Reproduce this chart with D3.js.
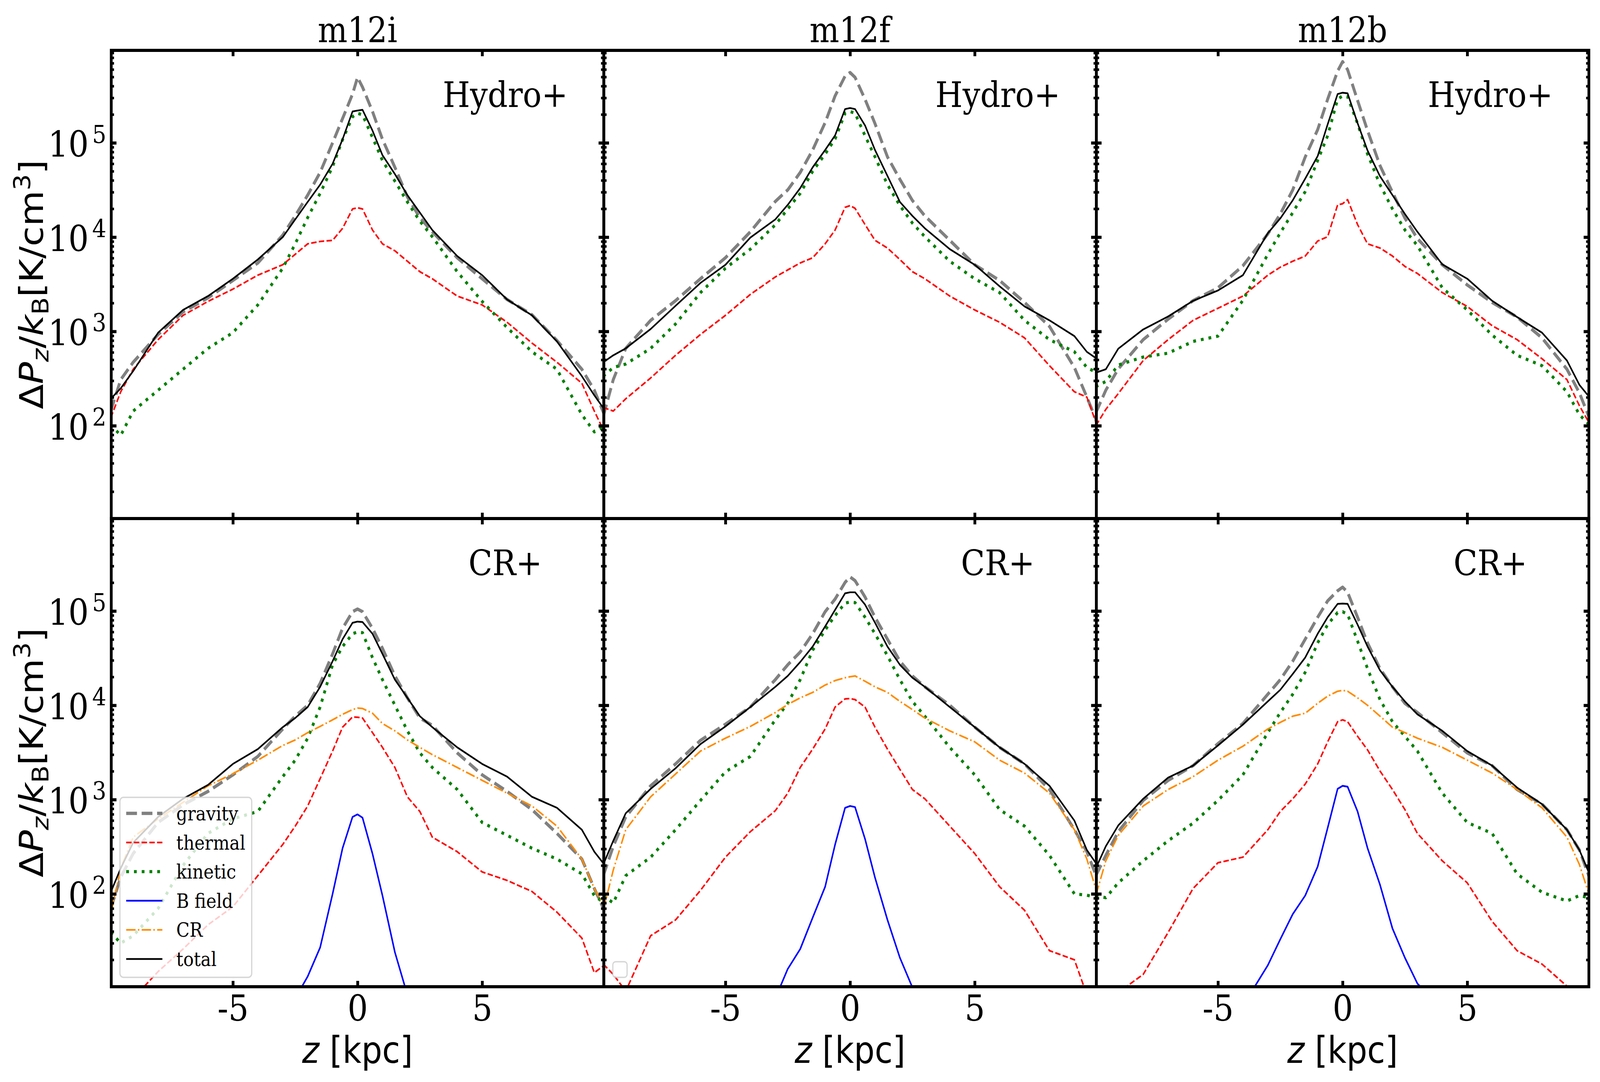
<!DOCTYPE html>
<html>
<head>
<meta charset="utf-8">
<script src="https://cdn.jsdelivr.net/npm/d3@7/dist/d3.min.js"></script>
<style>
html, body { margin: 0; padding: 0; background: #fff; overflow: hidden; }
#chartDiv { width: 100vw; height: 100vh; }
</style>
</head>
<body>
<div id="chartDiv"></div>
<script>
var zGrid = [-9.9, -9.5, -9, -8, -7, -6, -5, -4, -3, -2.5, -2, -1.5, -1, -0.6, -0.2, 0,
	0.2, 0.6, 1, 1.5, 2, 2.5, 3, 4, 5, 6, 7, 8, 9, 9.5, 9.9];

var galaxies = ["m12i", "m12f", "m12b"];
var runs = ["Hydro+", "CR+"];
var seriesNames = ["gravity", "thermal", "kinetic", "B field", "CR", "total"];
var xTickValues = [-5, 0, 5];
var yTickValues = [1e2, 1e3, 1e4, 1e5];

// m12i Hydro+
var m12iHydroGravity = [143, 308, 471, 929, 1610, 2270, 3470, 5320, 1.05e4, 1.68e4, 2.79e4, 4.86e4, 1.0e5, 1.81e5, 3.29e5, 4.95e5,
	3.9e5, 2.15e5, 1.09e5, 5.5e4, 2.67e4, 1.61e4, 1.14e4, 6040, 3620, 2180, 1500, 800, 397, 238, 131];
var m12iHydroThermal = [121, 229, 397, 818, 1480, 2080, 2810, 3950, 5100, 6580, 8490, 9000, 9240, 1.24e4, 1.99e4, 2.05e4,
	1.99e4, 1.19e4, 8490, 7160, 5550, 4300, 3620, 2370, 1910, 1250, 752, 471, 282, 143, 86];
var m12iHydroKinetic = [102, 79, 143, 238, 397, 661, 970, 1910, 4680, 8490, 1.61e4, 2.91e4, 5.6e4, 1.08e5, 1.89e5, 2.06e5,
	1.98e5, 1.14e5, 6.5e4, 3.92e4, 2.36e4, 1.48e4, 1.01e4, 4300, 2080, 1100, 608, 397, 131, 86, 98];
var m12iHydroTotal = [193, 249, 380, 970, 1690, 2370, 3620, 5790, 1.0e4, 1.54e4, 2.36e4, 3.6e4, 6.0e4, 1.09e5, 2.15e5, 2.2e5,
	2.24e5, 1.35e5, 7.4e4, 4.66e4, 2.79e4, 1.82e4, 1.19e4, 6300, 3950, 2180, 1480, 783, 335, 210, 149];

// m12f Hydro+
var m12fHydroGravity = [126, 308, 661, 1310, 2120, 3620, 6040, 1.14e4, 2.39e4, 3.17e4, 4.85e4, 8.4e4, 1.64e5, 3.15e5, 5.1e5, 5.57e5,
	4.95e5, 2.9e5, 1.6e5, 7.1e4, 4.1e4, 2.45e4, 1.68e4, 9250, 5090, 3470, 2030, 1130, 414, 201, 111];
var m12fHydroThermal = [156, 143, 193, 321, 558, 929, 1480, 2470, 3780, 4490, 5320, 6040, 8490, 1.19e4, 2.07e4, 2.16e4,
	2.02e4, 1.36e4, 9250, 7660, 5780, 4300, 3620, 2370, 1690, 1250, 854, 433, 229, 201, 102];
var m12fHydroKinetic = [335, 414, 451, 660, 1200, 2580, 4680, 7460, 1.35e4, 1.99e4, 2.91e4, 5.0e4, 7.6e4, 1.1e5, 2.06e5, 2.15e5,
	2.06e5, 1.19e5, 7.1e4, 3.6e4, 2.16e4, 1.41e4, 1.01e4, 5550, 3620, 2580, 1310, 818, 608, 414, 365];
var m12fHydroTotal = [471, 558, 661, 1060, 1870, 3270, 5090, 9890, 1.54e4, 2.2e4, 3.31e4, 5.5e4, 8.4e4, 1.2e5, 2.28e5, 2.34e5,
	2.28e5, 1.53e5, 8.4e4, 4.46e4, 2.36e4, 1.68e4, 1.24e4, 7460, 5090, 3010, 1840, 1310, 892, 607, 513];

// m12b Hydro+
var m12bHydroGravity = [137, 238, 400, 818, 1350, 2120, 2900, 4970, 1.08e4, 1.76e4, 3.17e4, 7.07e4, 1.38e5, 2.9e5, 5.77e5, 7.26e5,
	5.97e5, 2.82e5, 1.35e5, 5.75e4, 2.99e4, 1.59e4, 9640, 5090, 3110, 2030, 1420, 854, 397, 223, 121];
var m12bHydroThermal = [100, 149, 219, 491, 818, 1310, 1760, 2370, 3950, 4800, 5550, 6300, 9090, 1.01e4, 2.2e4, 2.26e4,
	2.5e4, 1.36e4, 8490, 7660, 6300, 4890, 4120, 2580, 1840, 1150, 818, 513, 308, 163, 106];
var m12bHydroKinetic = [259, 295, 440, 535, 588, 783, 892, 2140, 6580, 1.11e4, 1.82e4, 3.04e4, 6.5e4, 1.19e5, 2.9e5, 3.15e5,
	3.08e5, 1.6e5, 7.6e4, 3.6e4, 1.99e4, 1.19e4, 8130, 2900, 1690, 914, 558, 433, 229, 131, 102];
var m12bHydroTotal = [365, 397, 656, 1050, 1440, 2110, 2720, 3950, 1.1e4, 1.58e4, 2.46e4, 4.17e4, 7.24e4, 1.57e5, 3.29e5, 3.4e5,
	3.35e5, 1.62e5, 8.3e4, 4.42e4, 2.79e4, 1.76e4, 1.14e4, 5140, 3620, 2110, 1420, 970, 491, 271, 201];

// m12i CR+
var m12iCRGravity = [70, 150, 268, 572, 880, 1220, 1830, 2870, 5610, 7670, 1.0e4, 1.71e4, 3.51e4, 6.56e4, 9.83e4, 1.05e5,
	9.83e4, 6.56e4, 4.02e4, 2.05e4, 1.2e4, 7330, 6130, 3130, 1830, 1220, 783, 438, 234, 114, 67];
var m12iCRThermal = [null, null, 7.8, 15, 26, 47, 73, 156, 334, 523, 855, 1670, 3270, 5860, 7530, 7470,
	7330, 5130, 3580, 2190, 1070, 748, 400, 280, 171, 139, 106, 64, 34, 14.6, 17.5];
var m12iCRKinetic = [39, 30, 36, 70, 200, 438, 625, 748, 1750, 2620, 4480, 9590, 2.69e4, 4.2e4, 5.74e4, 6.0e4,
	5.9e4, 3.2e4, 1.87e4, 1.0e4, 5360, 3130, 2190, 1280, 572, 418, 305, 234, 163, 96, 80];
var m12iCRBfield = [null, null, null, null, null, null, null, null, null, 7.8, 13.3, 27, 100, 305, 655, 697,
	643, 267, 96, 24, 8.5, null, null, null, null, null, null, null, null, null, null];
var m12iCRCosmicRay = [61, 187, 400, 625, 935, 1400, 1880, 2620, 3750, 4290, 5130, 5970, 7010, 8020, 9010, 9340,
	9250, 8240, 6410, 5360, 4290, 3580, 3000, 2190, 1600, 1170, 855, 523, 234, 114, 73];
var m12iCRTotal = [104, 187, 350, 655, 1020, 1430, 2390, 3430, 5860, 7330, 9590, 1.57e4, 2.94e4, 5.02e4, 7.5e4, 7.72e4,
	7.64e4, 5.74e4, 3.51e4, 1.87e4, 1.2e4, 7670, 5860, 3580, 2390, 1750, 1070, 819, 479, 280, 205];

// m12f CR+
var m12fCRGravity = [156, 320, 655, 1400, 2390, 4250, 6290, 9590, 1.87e4, 2.69e4, 3.67e4, 5.74e4, 9.83e4, 1.34e5, 2.01e5, 2.3e5,
	2.1e5, 1.41e5, 8.59e4, 5.02e4, 2.94e4, 2.05e4, 1.57e4, 1.0e4, 5870, 3580, 2390, 1280, 479, 280, 149];
var m12fCRThermal = [18, 14, 9.3, 36, 53, 109, 245, 457, 762, 1170, 2190, 3430, 5610, 9590, 1.17e4, 1.18e4,
	1.15e4, 9590, 5860, 3430, 2090, 1280, 1020, 523, 268, 119, 67, 25, 20, 8.5, 5];
var m12fCRKinetic = [96, 80, 156, 245, 479, 980, 1970, 2870, 7010, 1.05e4, 1.87e4, 3.84e4, 6.28e4, 8.98e4, 1.21e5, 1.25e5,
	1.23e5, 8.59e4, 5.74e4, 3.36e4, 1.87e4, 1.1e4, 7670, 3580, 1830, 783, 523, 256, 100, 97, 91];
var m12fCRBfield = [null, null, null, null, null, null, null, null, 7.8, 16, 26, 56, 119, 334, 818, 855,
	833, 383, 149, 53, 21, 10.2, 4.6, null, null, null, null, null, null, null, null];
var m12fCRCosmicRay = [67, 179, 479, 1070, 1870, 3270, 4480, 5970, 8380, 1.02e4, 1.2e4, 1.37e4, 1.64e4, 1.83e4, 1.96e4, 2.01e4,
	2.05e4, 1.8e4, 1.57e4, 1.37e4, 1.1e4, 9010, 7330, 5360, 4100, 2620, 1910, 1170, 479, 234, 104];
var m12fCRTotal = [205, 366, 716, 1300, 2150, 3880, 5970, 9590, 1.57e4, 2.05e4, 2.88e4, 4.2e4, 6.87e4, 1.03e5, 1.54e5, 1.58e5,
	1.58e5, 1.17e5, 7.52e4, 4.2e4, 2.69e4, 1.96e4, 1.57e4, 9590, 5870, 3580, 2390, 1400, 598, 292, 205];

// m12b CR+
var m12bCRGravity = [156, 256, 457, 980, 1600, 2290, 3920, 6410, 1.31e4, 1.87e4, 2.94e4, 5.02e4, 8.59e4, 1.28e5, 1.64e5, 1.79e5,
	1.58e5, 8.59e4, 4.59e4, 2.45e4, 1.57e4, 1.05e4, 8380, 5130, 3130, 2290, 1280, 895, 479, 292, 149];
var m12bCRThermal = [null, 5, 9, 14, 39, 114, 214, 245, 479, 748, 1020, 1460, 2390, 4100, 6700, 7010,
	6700, 4690, 3370, 2010, 1280, 783, 438, 224, 131, 51, 25, 18, 10.5, 8, null];
var m12bCRKinetic = [96, 91, 131, 224, 366, 562, 980, 1830, 5130, 8380, 1.31e4, 2.24e4, 4.59e4, 7.18e4, 9.64e4, 9.83e4,
	9.22e4, 4.8e4, 2.45e4, 1.15e4, 6700, 4690, 3270, 1170, 572, 438, 163, 104, 84, 96, 91];
var m12bCRBfield = [null, null, null, null, null, null, null, 6.5, 17.5, 33, 61, 96, 195, 500, 1300, 1400,
	1370, 748, 306, 125, 43, 21, 11.2, 6, null, null, null, null, null, null, null];
var m12bCRCosmicRay = [96, 224, 418, 855, 1280, 1750, 2620, 3680, 5610, 6590, 7670, 8240, 1.05e4, 1.25e4, 1.41e4, 1.44e4,
	1.41e4, 1.2e4, 1.0e4, 7670, 5860, 5130, 4480, 3580, 2620, 1910, 1280, 818, 400, 205, 96];
var m12bCRTotal = [187, 320, 532, 1020, 1710, 2290, 3750, 6240, 1.1e4, 1.46e4, 2.15e4, 3.21e4, 5.74e4, 8.59e4, 1.19e5, 1.2e5,
	1.19e5, 7.18e4, 4.2e4, 2.35e4, 1.57e4, 1.1e4, 8020, 5360, 3270, 2290, 1340, 895, 479, 292, 163];

var panels = [
	{row: 0, col: 0, series: {"gravity": m12iHydroGravity, "thermal": m12iHydroThermal, "kinetic": m12iHydroKinetic, "total": m12iHydroTotal}},
	{row: 0, col: 1, series: {"gravity": m12fHydroGravity, "thermal": m12fHydroThermal, "kinetic": m12fHydroKinetic, "total": m12fHydroTotal}},
	{row: 0, col: 2, series: {"gravity": m12bHydroGravity, "thermal": m12bHydroThermal, "kinetic": m12bHydroKinetic, "total": m12bHydroTotal}},
	{row: 1, col: 0, series: {"gravity": m12iCRGravity, "thermal": m12iCRThermal, "kinetic": m12iCRKinetic, "B field": m12iCRBfield, "CR": m12iCRCosmicRay, "total": m12iCRTotal}},
	{row: 1, col: 1, series: {"gravity": m12fCRGravity, "thermal": m12fCRThermal, "kinetic": m12fCRKinetic, "B field": m12fCRBfield, "CR": m12fCRCosmicRay, "total": m12fCRTotal}},
	{row: 1, col: 2, series: {"gravity": m12bCRGravity, "thermal": m12bCRThermal, "kinetic": m12bCRKinetic, "B field": m12bCRBfield, "CR": m12bCRCosmicRay, "total": m12bCRTotal}}
];

var lineStyles = {
	"gravity": {color: "#808080", width: 8.4, dash: "31,13.4"},
	"thermal": {color: "#ff0000", width: 4.3, dash: "15.5,6.7"},
	"kinetic": {color: "#008000", width: 8, dash: "8,14.3"},
	"B field": {color: "#0000ff", width: 4.4, dash: null},
	"CR": {color: "#ff8c00", width: 4.3, dash: "26.9,6.7,4.2,6.7"},
	"total": {color: "#000000", width: 4.4, dash: null}
};

// the drawing is laid out in a 4602x2771 coordinate box and stretched to fill the window
var figW = 4602, figH = 2771;
var panelLeft = 320, panelTop = 129, panelW = 1416.67, panelH = 1199;

var svg = d3.select("#chartDiv").append("svg")
	.attr("viewBox", "0 0 " + figW + " " + figH)
	.attr("preserveAspectRatio", "none")
	.attr("width", "100%")
	.attr("height", "100%")
	.attr("font-family", "DejaVu Serif")
	.style("display", "block");

svg.append("rect").attr("width", figW).attr("height", figH).attr("fill", "#fff");

var x = d3.scaleLinear().domain([-9.88, 9.88]).range([0, panelW]);
var y = d3.scaleLog().domain([10.36, 9.565e5]).range([panelH, 0]);

// log minor tick positions inside the y range
var yMinor = [];
for (var k = 1; k <= 5; k++) {
	for (var m = 2; m <= 9; m++) {
		var v = m * Math.pow(10, k);
		if (v > y.domain()[0] && v < y.domain()[1]) yMinor.push(v);
	}
}

var line = d3.line()
	.defined(function(d) { return d[1] != null; })
	.x(function(d) { return x(d[0]); })
	.y(function(d) { return y(d[1]); });

function styleAxis(g, width) {
	g.select(".domain").remove();
	g.selectAll(".tick line").attr("stroke", "#000").attr("stroke-width", width);
}

panels.forEach(function(p, i) {
	var g = svg.append("g")
		.attr("transform", "translate(" + (panelLeft + p.col * panelW) + "," + (panelTop + p.row * panelH) + ")");

	var clipId = "clip" + i;
	g.append("clipPath").attr("id", clipId)
		.append("rect").attr("width", panelW).attr("height", panelH);

	var lines = g.append("g").attr("clip-path", "url(#" + clipId + ")");
	seriesNames.forEach(function(name) {
		var vals = p.series[name];
		if (!vals) return;
		var st = lineStyles[name];
		lines.append("path")
			.datum(zGrid.map(function(z, j) { return [z, vals[j]]; }))
			.attr("fill", "none")
			.attr("stroke", st.color)
			.attr("stroke-width", st.width)
			.attr("stroke-dasharray", st.dash)
			.attr("stroke-linejoin", "round")
			.attr("d", line);
	});

	// ticks point inward on all four sides
	var bottomAxis = g.append("g").attr("transform", "translate(0," + panelH + ")")
		.call(d3.axisBottom(x).tickValues(xTickValues).tickSizeInner(-15).tickSizeOuter(0)
			.tickFormat(function(d) { return p.row == 1 ? String(d) : ""; }));
	styleAxis(bottomAxis, 8);
	bottomAxis.selectAll(".tick text")
		.attr("y", 87).attr("dy", null)
		.attr("font-family", "DejaVu Serif").attr("font-size", 92).attr("fill", "#000");

	var topAxis = g.append("g")
		.call(d3.axisTop(x).tickValues(xTickValues).tickSizeInner(-15).tickSizeOuter(0).tickFormat(""));
	styleAxis(topAxis, 8);

	var leftAxis = g.append("g")
		.call(d3.axisLeft(y).tickValues(yTickValues).tickSizeInner(-15).tickSizeOuter(0).tickFormat(""));
	styleAxis(leftAxis, 8);
	var leftMinor = g.append("g")
		.call(d3.axisLeft(y).tickValues(yMinor).tickSizeInner(-8).tickSizeOuter(0).tickFormat(""));
	styleAxis(leftMinor, 6.5);

	var rightAxis = g.append("g").attr("transform", "translate(" + panelW + ",0)")
		.call(d3.axisRight(y).tickValues(yTickValues).tickSizeInner(-15).tickSizeOuter(0).tickFormat(""));
	styleAxis(rightAxis, 8);
	var rightMinor = g.append("g").attr("transform", "translate(" + panelW + ",0)")
		.call(d3.axisRight(y).tickValues(yMinor).tickSizeInner(-8).tickSizeOuter(0).tickFormat(""));
	styleAxis(rightMinor, 6.5);

	if (p.col == 0) {
		leftAxis.selectAll(".tick text").each(function(d) {
			var t = d3.select(this).text(null)
				.attr("x", -14).attr("y", 35).attr("dy", null)
				.attr("font-family", "DejaVu Serif").attr("font-size", 92).attr("fill", "#000");
			t.append("tspan").text("10");
			t.append("tspan").attr("dx", 10).attr("dy", -35).attr("font-size", 64)
				.text(Math.round(Math.log10(d)));
		});

		// y label: Delta P_z / k_B [K/cm^3]
		var yl = g.append("text")
			.attr("transform", "translate(-196," + (panelH / 2) + ") rotate(-90)")
			.attr("text-anchor", "middle")
			.attr("font-family", "DejaVu Sans")
			.attr("font-size", 94);
		yl.append("tspan").text("\u0394");
		yl.append("tspan").attr("font-style", "italic").text("P");
		yl.append("tspan").attr("font-style", "italic").attr("font-size", 66).attr("dy", 15).text("z");
		yl.append("tspan").attr("dy", -15).text("/");
		yl.append("tspan").attr("font-style", "italic").text("k");
		yl.append("tspan").attr("font-size", 66).attr("dy", 15).text("B");
		yl.append("tspan").attr("dy", -15).text("[K/cm");
		yl.append("tspan").attr("font-size", 66).attr("dy", -38).text("3");
		yl.append("tspan").attr("dy", 38).text("]");
	}

	if (p.row == 0) {
		g.append("text")
			.attr("x", panelW / 2).attr("y", -21)
			.attr("text-anchor", "middle")
			.attr("font-size", 90)
			.text(galaxies[p.col]);
	} else {
		var xl = g.append("text")
			.attr("x", panelW / 2).attr("y", panelH + 195)
			.attr("text-anchor", "middle")
			.attr("font-family", "DejaVu Sans")
			.attr("font-size", 94);
		xl.append("tspan").attr("font-style", "italic").text("z");
		xl.append("tspan").text(" [kpc]");
	}

	g.append("text")
		.attr("x", 0.8 * panelW).attr("y", 145)
		.attr("text-anchor", "middle")
		.attr("font-size", 90)
		.text(runs[p.row]);

	g.append("rect")
		.attr("width", panelW).attr("height", panelH)
		.attr("fill", "none").attr("stroke", "#000").attr("stroke-width", 8);

	// legend lives in the first CR+ panel, an empty legend box in the second
	if (p.row == 1 && p.col == 0) {
		var lg = g.append("g").attr("transform", "translate(25," + (panelH - 24 - 461) + ")");
		lg.append("rect")
			.attr("width", 379).attr("height", 461).attr("rx", 10)
			.attr("fill", "#fff").attr("fill-opacity", 0.8)
			.attr("stroke", "#cccccc").attr("stroke-opacity", 0.8).attr("stroke-width", 3.5);
		seriesNames.forEach(function(name, j) {
			var st = lineStyles[name];
			var ly = 41 + j * 74.6;
			lg.append("line")
				.attr("x1", 18).attr("x2", 122).attr("y1", ly).attr("y2", ly)
				.attr("stroke", st.color)
				.attr("stroke-width", st.width)
				.attr("stroke-dasharray", st.dash);
			lg.append("text")
				.attr("x", 162).attr("y", ly + 18)
				.attr("font-size", 50)
				.text(name);
		});
	}
	if (p.row == 1 && p.col == 1) {
		g.append("rect")
			.attr("x", 26).attr("y", panelH - 24 - 40)
			.attr("width", 41).attr("height", 40).attr("rx", 8)
			.attr("fill", "#fff").attr("fill-opacity", 0.8)
			.attr("stroke", "#cccccc").attr("stroke-opacity", 0.8).attr("stroke-width", 3.5);
	}
});
</script>
</body>
</html>
